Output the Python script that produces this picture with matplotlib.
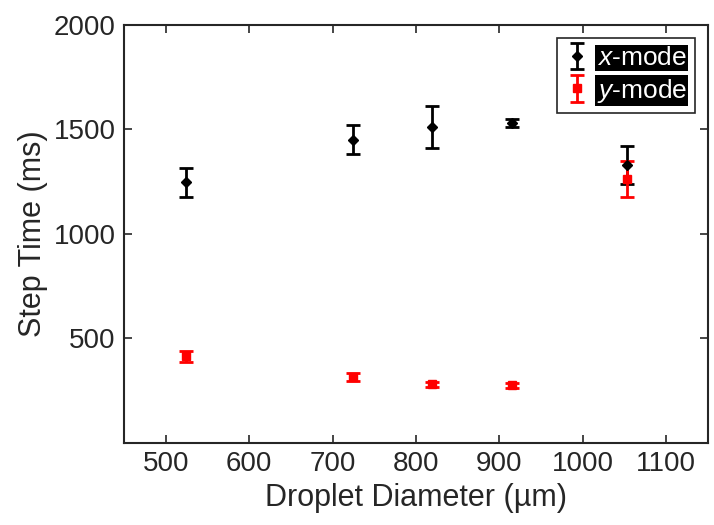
import matplotlib
matplotlib.use("Agg")
import matplotlib.pyplot as plt

plt.rcParams["font.family"] = ["Liberation Sans", "DejaVu Sans"]
plt.rcParams["mathtext.fontset"] = "custom"
plt.rcParams["mathtext.it"] = "Liberation Sans:italic"
plt.rcParams["mathtext.rm"] = "Liberation Sans"

# droplet diameter (um) and step time (ms)
diam = [524, 724, 819, 915, 1053]
x_mode = [1247, 1452, 1512, 1530, 1330]
x_err = [69, 68, 102, 18, 92]
y_mode = [414, 315, 282, 276, 1262]
y_err = [28, 19, 12, 12, 85]

fig = plt.figure(figsize=(7.14, 5.25), dpi=100)
ax = fig.add_axes([0.1737, 0.1562, 0.818, 0.7962])

ax.errorbar(diam, x_mode, yerr=x_err, fmt="D", color="black", ms=5,
            elinewidth=2, capsize=5, capthick=2, label=r"$\mathit{x}$-mode")
ax.errorbar(diam, y_mode, yerr=y_err, fmt="s", color="red", ms=6,
            elinewidth=2, capsize=5, capthick=2, label=r"$\mathit{y}$-mode")

ax.set_xlim(450, 1150)
ax.set_ylim(0, 2000)
ax.set_xticks([500, 600, 700, 800, 900, 1000, 1100])
ax.set_yticks([500, 1000, 1500, 2000])
ax.tick_params(direction="in", top=True, right=True, labelsize=20,
               length=6, width=1.2, colors="#262626", pad=6)
for s in ax.spines.values():
    s.set_linewidth(1.5)
    s.set_color("#262626")

ax.set_xlabel("Droplet Diameter (µm)", fontsize=22, color="#262626", labelpad=4)
ax.set_ylabel("Step Time (ms)", fontsize=22, color="#262626", labelpad=4)

leg = ax.legend(loc="upper right", fontsize=19, fancybox=False,
                framealpha=1, edgecolor="#262626", handlelength=0.9,
                handletextpad=0.3, borderaxespad=0.5, labelspacing=0.25,
                borderpad=0.3)
leg.get_frame().set_linewidth(1.2)
for t in leg.get_texts():
    t.set_color("white")
    t.set_bbox(dict(facecolor="black", edgecolor="none", pad=1))

fig.savefig("out.png", dpi=100)
